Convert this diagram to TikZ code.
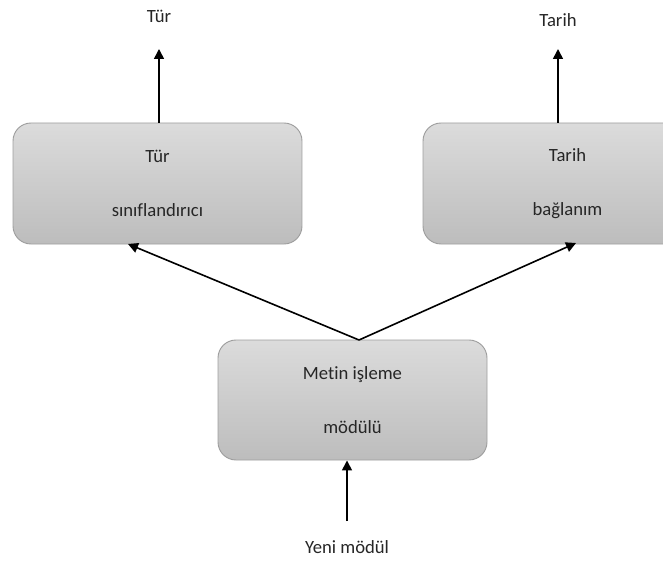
\documentclass[tikz,border=0pt]{standalone}
\usepackage{fontspec}
\setmainfont[Ligatures=NoCommon]{Carlito}
\usetikzlibrary{arrows.meta,positioning}

\begin{document}
\begin{tikzpicture}[
  x=0.75pt, y=-0.75pt,
  font=\fontsize{14pt}{16pt}\selectfont,
  line width=1.2pt,
  arr/.style={-{Triangle[length=7.5pt,width=7.5pt]}},
  modbox/.style={draw=black!38, line width=0.7pt, rounded corners=13.5pt,
    top color=black!14, bottom color=black!26, align=center,
    font=\fontsize{14pt}{41pt}\selectfont, text=black!85,
    minimum height=90.75pt},
  wide/.style={modbox, minimum width=216.75pt},
  mid/.style={modbox, minimum width=201.75pt, minimum height=90pt},
  lbl/.style={text=black!85}
]
\clip (0,0) rectangle (663,563);

% ----- fixed coordinates
\coordinate (C1) at (157.5,183.5);
\coordinate (C2) at (567.5,183.5);
\coordinate (C3) at (352.5,400);

% ----- boxes
\node[wide] at (C1) (tur) {Tür\\sınıflandırıcı};
\node[wide] at (C2) (tarih) {Tarih\\bağlanım};
\node[mid]  at (C3) (metin) {Metin işleme\\mödülü};

% ----- labels
\node[lbl] at (159,16) (turout) {Tür};
\node[lbl] at (558,20) (tarihout) {Tarih};
\node[lbl] at (347,547) (yeni) {Yeni mödül};

\coordinate (tipL) at (159,49);
\coordinate (tipR) at (558,49);
\coordinate (inB)  at (347,521);
\coordinate (apex) at (359,340);
\coordinate (hitL) at (128,244);
\coordinate (hitR) at (576,243);

% ----- connectors
\draw[arr] (tur.north -| tipL) -- (tipL);
\draw[arr] (tarih.north -| tipR) -- (tipR);
\draw[arr] (inB) -- (inB |- metin.south);
\draw[arr] (apex) -- (hitL);
\draw[arr] (apex) -- (hitR);

\end{tikzpicture}
\end{document}
